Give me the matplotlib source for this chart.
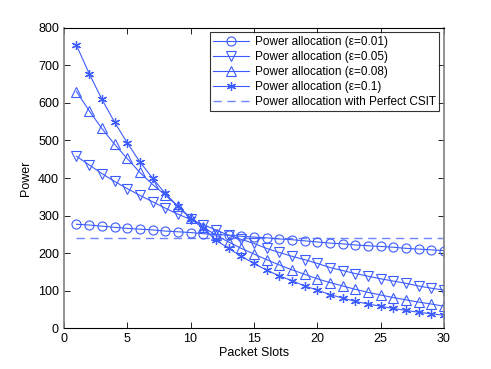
import numpy as np
import matplotlib
matplotlib.use('Agg')
import matplotlib.pyplot as plt

plt.rcParams['font.family'] = ['Liberation Sans', 'DejaVu Sans']

# Data
slots = list(range(1, 31))
p_eps001 = [277, 275, 272, 269, 266, 264, 262, 259, 257, 255, 252, 250, 248, 245, 243,
            241, 238, 236, 233, 230, 227, 225, 222, 220, 218, 216, 213, 211, 209, 207]
p_eps005 = [458, 435, 412, 391, 372, 354, 337, 320, 304, 290, 276, 262, 248, 237, 226,
            213, 202, 192, 183, 173, 162, 154, 146, 139, 132, 126, 120, 113, 107, 102]
p_eps008 = [630, 579, 532, 490, 452, 415, 383, 355, 325, 295, 270, 248, 230, 213, 198,
            183, 169, 156, 144, 132, 122, 113, 104, 96, 89, 82, 76, 70, 65, 59]
p_eps01 = [753, 678, 610, 549, 494, 443, 400, 359, 325, 292, 266, 235, 213, 192, 173,
           155, 140, 127, 113, 102, 90, 81, 72, 65, 59, 53, 48, 43, 39, 35]
p_csit = [241] * 30

blue = '#3d5cff'

fig = plt.figure(figsize=(4.91, 3.69), dpi=100)
ax = fig.add_axes([0.130, 0.110, 0.774, 0.815])

ax.plot(slots, p_eps001, color=blue, lw=0.8, marker='o', ms=6.5, mfc='none', mec=blue,
        mew=0.8, label='Power allocation (\u03b5=0.01)')
ax.plot(slots, p_eps005, color=blue, lw=0.8, marker='v', ms=7, mfc='none', mec=blue,
        mew=0.8, label='Power allocation (\u03b5=0.05)')
ax.plot(slots, p_eps008, color=blue, lw=0.8, marker='^', ms=7, mfc='none', mec=blue,
        mew=0.8, label='Power allocation (\u03b5=0.08)')
ax.plot(slots, p_eps01, color=blue, lw=0.8, marker=(6, 2, 0), ms=6.5, mec=blue,
        mew=0.9, label='Power allocation (\u03b5=0.1)')
ax.plot(slots, p_csit, color=blue, lw=1.0, linestyle=(0, (6, 4)), alpha=0.75,
        label='Power allocation with Perfect CSIT')

ax.set_xlim(0, 30)
ax.set_ylim(0, 800)
ax.set_xticks(range(0, 31, 5))
ax.set_yticks(range(0, 801, 100))
ax.tick_params(direction='in', top=True, right=True, labelsize=9, length=4, width=0.6)
ax.set_xlabel('Packet Slots', fontsize=9, labelpad=1)
ax.set_ylabel('Power', fontsize=9)

for side in ['left', 'right']:
    ax.spines[side].set_color('#808080')
    ax.spines[side].set_linewidth(1.2)
for side in ['top', 'bottom']:
    ax.spines[side].set_color('black')
    ax.spines[side].set_linewidth(0.8)

leg = ax.legend(loc='upper right', fontsize=8.5, frameon=True, fancybox=False,
                edgecolor='black', handlelength=3.0, borderpad=0.3, labelspacing=0.25,
                handletextpad=0.5, borderaxespad=0.4)
leg.get_frame().set_linewidth(0.8)

fig.savefig('out.png', dpi=100)
